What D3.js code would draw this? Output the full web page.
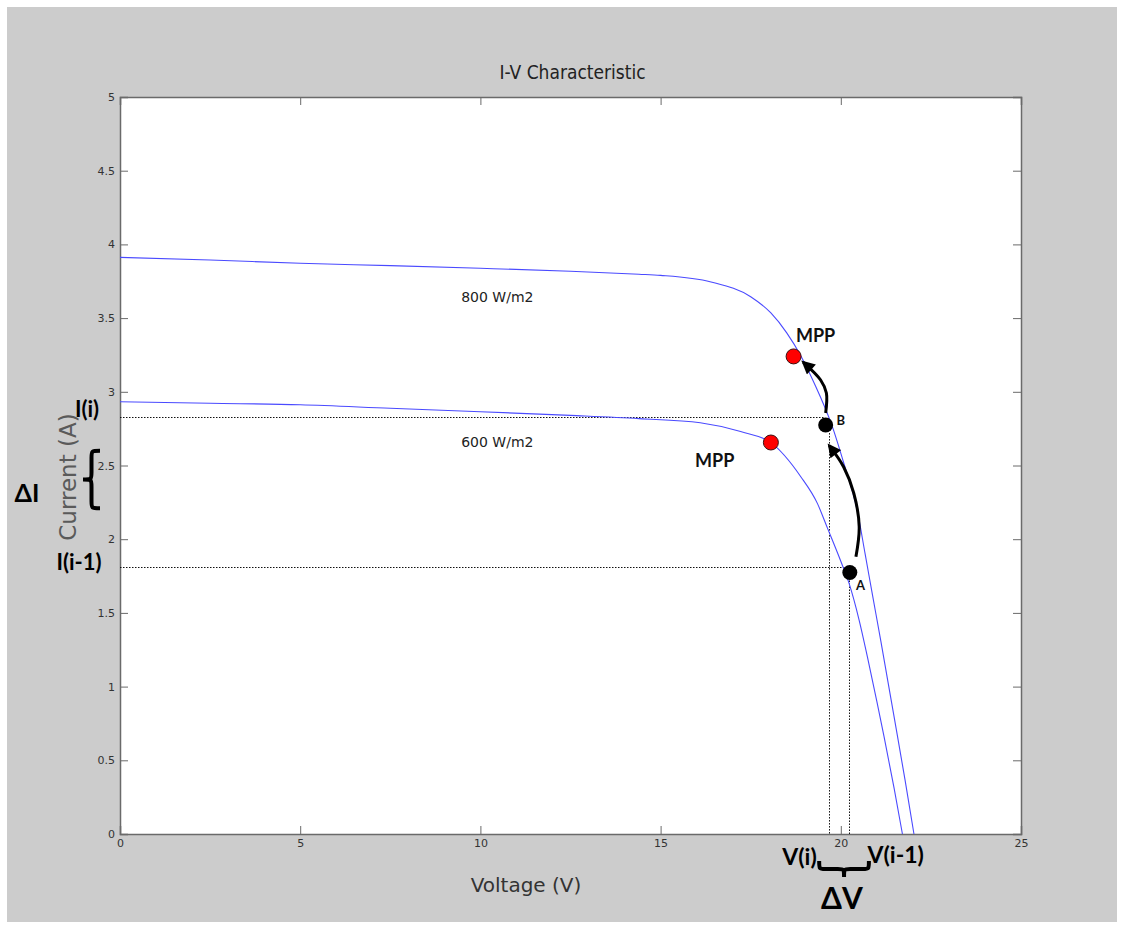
<!DOCTYPE html>
<html>
<head>
<meta charset="utf-8">
<title>I-V Characteristic</title>
<script src="https://cdn.jsdelivr.net/npm/d3@7"></script>
<style>
  html, body { margin: 0; padding: 0; background: #ffffff; }
  svg { display: block; }
</style>
</head>
<body>
<svg id="chart" width="1124" height="929"></svg>
<script>
// Photovoltaic I-V curves at two irradiance levels (voltage in V, current in A)
const curve800 = [
  [0, 3.912], [2.5, 3.894], [5, 3.872], [7.5, 3.856], [10, 3.838], [12.5, 3.818],
  [14.4, 3.798], [15, 3.79], [16.4, 3.745], [17.5, 3.645], [18.06, 3.535],
  [18.5, 3.40], [18.9, 3.24], [19.26, 3.06], [19.77, 2.76], [20.09, 2.51],
  [20.46, 2.19], [20.675, 1.90], [20.88, 1.62], [21.11, 1.31], [21.31, 1.03],
  [21.54, 0.71], [21.78, 0.37], [22.03, 0]
];
const curve600 = [
  [0, 2.932], [2.5, 2.922], [5, 2.912], [7.5, 2.888], [10, 2.865], [12.5, 2.84],
  [14.4, 2.818], [16.1, 2.79], [17.22, 2.73], [18.06, 2.655], [18.89, 2.424],
  [19.35, 2.243], [19.63, 2.075], [20.0, 1.85], [20.23, 1.70], [20.51, 1.45],
  [20.74, 1.20], [21.0, 0.90], [21.2, 0.66], [21.48, 0.31], [21.71, 0]
];
const curveLabels = [
  { text: "800 W/m2", v: 10.47, i: 3.636 },
  { text: "600 W/m2", v: 10.47, i: 2.653 }
];

// Maximum power points and the two tracking steps A -> B
const mppPoints = [
  { v: 18.69, i: 3.24, lv: 19.3, li: 3.37 },
  { v: 18.06, i: 2.656, lv: 16.5, li: 2.52 }
];
const stepPoints = [
  { name: "A", v: 20.25, i: 1.774, lv: 20.55, li: 1.68 },
  { name: "B", v: 19.58, i: 2.775, lv: 20.0, li: 2.80 }
];

// Curved arrows showing the search direction
const arrowAtoB = [[20.42, 1.881], [20.51, 2.085], [20.36, 2.313], [20.08, 2.49], [19.68, 2.635]];
const arrowBtoMpp = [[19.58, 2.856], [19.60, 2.992], [19.44, 3.08], [18.96, 3.20]];

// Dotted projection lines onto the axes
const currentLevels = [
  { i: 2.826, vEnd: 19.52 },   // I(i)
  { i: 1.814, vEnd: 20.08 }    // I(i-1)
];
const voltageLevels = [
  { v: 19.66, iStart: 2.72 },  // V(i)
  { v: 20.22, iStart: 1.72 }   // V(i-1)
];

const xTicks = [0, 5, 10, 15, 20, 25];
const yTicks = [0, 0.5, 1, 1.5, 2, 2.5, 3, 3.5, 4, 4.5, 5];

const svg = d3.select("#chart");
const plot = { left: 120, top: 97, right: 1021, bottom: 834 };

const x = d3.scaleLinear().domain([0, 25]).range([plot.left, plot.right]);
const y = d3.scaleLinear().domain([0, 5]).range([plot.bottom, plot.top]);

// figure background
svg.append("rect").attr("x", 7).attr("y", 7).attr("width", 1110).attr("height", 915)
  .attr("fill", "#cccccc");
svg.append("rect").attr("x", plot.left).attr("y", plot.top)
  .attr("width", plot.right - plot.left).attr("height", plot.bottom - plot.top)
  .attr("fill", "#ffffff");

const mono = "'DejaVu Sans', Verdana, sans-serif";
const bold = "Lato, 'Open Sans', sans-serif";

// axes: ticks point inward on all four sides
const tickLen = 8;
const axisColor = "#6a6a6a";
const bottomAxis = d3.axisBottom(x).tickValues(xTicks).tickSize(-tickLen).tickPadding(5).tickFormat(d3.format("d"));
const topAxis = d3.axisTop(x).tickValues(xTicks).tickSize(-tickLen).tickFormat("");
const leftAxis = d3.axisLeft(y).tickValues(yTicks).tickSize(-tickLen).tickPadding(5).tickFormat(d => String(d));
const rightAxis = d3.axisRight(y).tickValues(yTicks).tickSize(-tickLen).tickFormat("");

function styleAxis(g) {
  g.select(".domain").attr("stroke", axisColor).attr("stroke-width", 1.5);
  g.selectAll(".tick line").attr("stroke", axisColor).attr("stroke-width", 1);
  g.selectAll(".tick text").attr("fill", "#333").attr("font-family", mono).attr("font-size", 11);
}
svg.append("g").attr("transform", `translate(0,${plot.bottom})`).call(bottomAxis).call(styleAxis)
  .selectAll(".tick line").filter(d => d === 0 || d === 25).remove();
svg.append("g").attr("transform", `translate(0,${plot.top})`).call(topAxis).call(styleAxis)
  .selectAll(".tick line").filter(d => d === 0 || d === 25).remove();
svg.append("g").attr("transform", `translate(${plot.left},0)`).call(leftAxis).call(styleAxis)
  .selectAll(".tick line").filter(d => d === 0).remove();
svg.append("g").attr("transform", `translate(${plot.right},0)`).call(rightAxis).call(styleAxis)
  .selectAll(".tick line").filter(d => d === 0).remove();

// title and axis labels
svg.append("text").attr("x", (plot.left + plot.right) / 2 + 2).attr("y", 79)
  .attr("text-anchor", "middle").attr("font-family", "'DejaVu Sans Condensed', 'DejaVu Sans', sans-serif")
  .attr("font-size", 19).attr("fill", "#222").text("I-V Characteristic");
svg.append("text").attr("x", 526).attr("y", 892)
  .attr("text-anchor", "middle").attr("font-family", mono)
  .attr("font-size", 20).attr("fill", "#333").text("Voltage (V)");
svg.append("text").attr("transform", "translate(76,477) rotate(-90)")
  .attr("text-anchor", "middle").attr("font-family", mono)
  .attr("font-size", 23).attr("fill", "#5a5a5a").text("Current (A)");

// dotted projection lines
const guides = svg.append("g").attr("stroke", "#111").attr("stroke-width", 1)
  .attr("stroke-dasharray", "1.5,1.5").attr("fill", "none");
guides.selectAll("line.h").data(currentLevels).join("line").attr("class", "h")
  .attr("x1", x(0)).attr("x2", d => x(d.vEnd))
  .attr("y1", d => Math.round(y(d.i)) + 0.5).attr("y2", d => Math.round(y(d.i)) + 0.5);
guides.selectAll("line.v").data(voltageLevels).join("line").attr("class", "v")
  .attr("x1", d => Math.round(x(d.v)) + 0.5).attr("x2", d => Math.round(x(d.v)) + 0.5)
  .attr("y1", d => y(d.iStart)).attr("y2", y(0));

// I-V curves
const line = d3.line().x(d => x(d[0])).y(d => y(d[1])).curve(d3.curveMonotoneX);
svg.append("g").selectAll("path.iv").data([curve800, curve600]).join("path").attr("class", "iv")
  .attr("d", line).attr("fill", "none").attr("stroke", "#4a4aff").attr("stroke-width", 1.1);

svg.append("g").selectAll("text").data(curveLabels).join("text")
  .attr("x", d => x(d.v)).attr("y", d => y(d.i)).attr("text-anchor", "middle")
  .attr("dominant-baseline", "middle").attr("font-family", mono).attr("font-size", 14)
  .attr("fill", "#222").text(d => d.text);

// curved arrows
const defs = svg.append("defs");
defs.append("marker").attr("id", "head").attr("viewBox", "0 0 10 10")
  .attr("refX", 8).attr("refY", 5).attr("markerWidth", 5).attr("markerHeight", 4.5)
  .attr("markerUnits", "strokeWidth").attr("orient", "auto")
  .append("path").attr("d", "M0,0 L10,5 L0,10 Z").attr("fill", "#000");
const arrowLine = d3.line().x(d => x(d[0])).y(d => y(d[1])).curve(d3.curveCatmullRom.alpha(0.5));
svg.append("g").selectAll("path").data([arrowAtoB, arrowBtoMpp]).join("path")
  .attr("d", arrowLine).attr("fill", "none").attr("stroke", "#000").attr("stroke-width", 3)
  .attr("marker-end", "url(#head)");

// operating points
svg.append("g").selectAll("circle").data(mppPoints).join("circle")
  .attr("cx", d => x(d.v)).attr("cy", d => y(d.i)).attr("r", 7.5)
  .attr("fill", "#ff0000").attr("stroke", "#3a1010").attr("stroke-width", 1);
svg.append("g").selectAll("circle").data(stepPoints).join("circle")
  .attr("cx", d => x(d.v)).attr("cy", d => y(d.i)).attr("r", 7.5).attr("fill", "#000");

svg.append("g").selectAll("text").data(mppPoints).join("text")
  .attr("x", d => x(d.lv)).attr("y", d => y(d.li)).attr("text-anchor", "middle")
  .attr("dominant-baseline", "middle").attr("font-family", bold).attr("font-weight", 700)
  .attr("font-size", 18).attr("fill", "#111").text("MPP");
svg.append("g").selectAll("text").data(stepPoints).join("text")
  .attr("x", d => x(d.lv)).attr("y", d => y(d.li)).attr("text-anchor", "middle")
  .attr("dominant-baseline", "middle").attr("font-family", bold).attr("font-weight", 700)
  .attr("font-size", 13).attr("fill", "#111").text(d => d.name);

// delta annotations beside the axes
const ann = svg.append("g").attr("font-family", bold).attr("font-weight", 700).attr("fill", "#000");
ann.append("text").attr("x", 87).attr("y", y(currentLevels[0].i) - 6).attr("text-anchor", "middle")
  .attr("dominant-baseline", "middle").attr("font-size", 22).text("I(i)");
ann.append("text").attr("x", 79).attr("y", y(currentLevels[1].i) - 2).attr("text-anchor", "middle")
  .attr("dominant-baseline", "middle").attr("font-size", 22).text("I(i-1)");
ann.append("text").attr("x", 27).attr("y", 496).attr("text-anchor", "middle")
  .attr("dominant-baseline", "middle").attr("font-size", 25).text("ΔI");
ann.append("text").attr("x", x(voltageLevels[0].v) - 29).attr("y", 859).attr("text-anchor", "middle")
  .attr("dominant-baseline", "middle").attr("font-size", 23).text("V(i)");
ann.append("text").attr("x", x(voltageLevels[1].v) + 47).attr("y", 857).attr("text-anchor", "middle")
  .attr("dominant-baseline", "middle").attr("font-size", 23).text("V(i-1)");
ann.append("text").attr("x", 842).attr("y", 901).attr("text-anchor", "middle")
  .attr("dominant-baseline", "middle").attr("font-size", 30).text("ΔV");

// curly braces spanning ΔI and ΔV
function braceVertical(x0, y1, y2, w) {
  const ym = (y1 + y2) / 2, h = (y2 - y1) / 2, xm = x0 - w / 2;
  const p = d3.path();
  p.moveTo(x0, y1);
  p.bezierCurveTo(xm, y1, xm, y1, xm, y1 + h * 0.25);
  p.lineTo(xm, ym - h * 0.25);
  p.bezierCurveTo(xm, ym, xm, ym, x0 - w, ym);
  p.bezierCurveTo(xm, ym, xm, ym, xm, ym + h * 0.25);
  p.lineTo(xm, y2 - h * 0.25);
  p.bezierCurveTo(xm, y2, xm, y2, x0, y2);
  return p.toString();
}
function braceHorizontal(x1, x2, y0, hgt) {
  const xm = (x1 + x2) / 2, w = (x2 - x1) / 2, ym = y0 + hgt / 2;
  const p = d3.path();
  p.moveTo(x1, y0);
  p.bezierCurveTo(x1, ym, x1, ym, x1 + w * 0.25, ym);
  p.lineTo(xm - w * 0.25, ym);
  p.bezierCurveTo(xm, ym, xm, ym, xm, y0 + hgt);
  p.bezierCurveTo(xm, ym, xm, ym, xm + w * 0.25, ym);
  p.lineTo(x2 - w * 0.25, ym);
  p.bezierCurveTo(x2, ym, x2, ym, x2, y0);
  return p.toString();
}
svg.append("path").attr("d", braceVertical(100, y(2.60), y(2.21), 17))
  .attr("fill", "none").attr("stroke", "#000").attr("stroke-width", 4);
svg.append("path").attr("d", braceHorizontal(x(19.4), x(20.78), 861, 16))
  .attr("fill", "none").attr("stroke", "#000").attr("stroke-width", 4);
</script>
</body>
</html>
